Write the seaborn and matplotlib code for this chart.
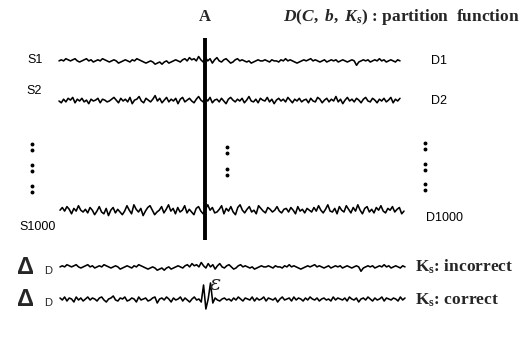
import numpy as np
import matplotlib
matplotlib.use("Agg")
import matplotlib.pyplot as plt
import seaborn as sns

sns.set_style("white")
plt.rcParams['font.family'] = ['Liberation Sans', 'DejaVu Sans']
plt.rcParams['mathtext.fontset'] = 'custom'
plt.rcParams['mathtext.rm'] = 'Liberation Serif:bold'
plt.rcParams['mathtext.it'] = 'Liberation Serif:italic:bold'
plt.rcParams['mathtext.bf'] = 'Liberation Serif:bold'

# ---- data: hand-read trace shapes (relative amplitude, up = positive) ----
s1 = [1, 2, 1, 3, 2, 1, 2, 3, 1, 0, 1, 2, 3, 1, 2, 0, 1, 2, 1, 3,
      2, 1, 0, 1, 2, 1, -1, 0, 1, 2, 1, 0, 2, 1, 3, 2, 1, 0, -1, 0,
      1, 0, -2, -1, 0, -2, 0, 1, -1, 0, 1, 2, 1, 0, 2, 3, 1, 4, 2, 3,
      1, 5, 2, 0, 4, 1, 3, -1, 2, 4, 1, 0, 2, 3, 1, -1, 0, 2, 3, 1,
      2, 1, 0, 1, -1, 0, 1, 2, 1, 1, 2, 1, 0, 2, 1, 1, 0, 2, 1, 3,
      1, 2, 1, 0, -1, 0, 1, 2, 1, 2, 3, 1, 2, 1, 0, 1, 2, 0, 1, 2,
      1, 2, 0, 1, 2, 1, 0, 1, 2, 1, -3, 0, 1, 2, 1, 2, 0, 1, 2, 1,
      3, 1, 2, 0, 1, 2, 1, 0, 2, 1]
s2 = [0, -2, 2, -1, 3, 1, 4, -2, 2, 0, 3, -1, 1, -3, 2, 0, 1, 3, -2, 2,
      1, -1, 0, 2, 4, 1, -2, 3, 0, 2, -1, 4, -3, 1, 2, 5, 0, -2, 3, 1,
      -1, 2, 6, 0, 3, -2, 1, 4, -1, 2, 0, 3, -3, 2, 4, -1, 1, 3, 0, -2,
      2, 5, 1, -1, 3, 0, 4, -2, 1, 2, -1, 3, 0, -3, 2, 4, 1, -1, 2, 0,
      3, -2, 1, 5, 0, -1, 2, -2, 3, 1, 0, 4, -1, 2, -3, 1, 3, 0, 2, -1,
      4, 1, -2, 2, 0, 3, -1, 1, 2, -2, 3, 0, -1, 4, 2, -2, 1, 3, -1, 2,
      0, 5, -1, 2, -3, 1, 4, 0, 2, -1, 3, 1, -2, 2, 4, 0, -1, 3, 1, -2,
      2, 0, 3, -1, 1, 4, -2, 2, 0, 3]
s1000 = [2, 5, 1, 6, 3, -2, 4, 1, 7, 2, 0, 3, -1, 5, 2, -3, 1, 6, 0, -2,
         4, -4, 2, 5, -1, 3, 0, -3, 1, 7, 2, -2, 8, 3, 0, 4, -4, 1, 5, 7,
         2, -3, 0, 2, 6, -1, 3, 8, 1, 4, -2, 5, 0, 2, 7, -1, 3, 0, -3, 4,
         6, 1, -2, 3, 8, 2, 5, -1, 0, 3, 7, -2, 4, 1, 6, 0, -3, 5, 8, 2,
         -1, 3, 6, 0, 2, -2, 7, 4, 1, -1, 5, 3, 0, 2, 6, 1, -1, 3, 4, 0,
         5, 2, -2, 6, 1, 3, -1, 4, 2, 0, 5, 1, 7, 2, -1, 3, 8, 1, 0, 4,
         -2, 6, 2, 0, 7, 3, -1, 5, 1, 8, 2, -2, 4, 6, 0, 3, -1, 5, 2, 7,
         1, -1, 4, 2, 6, 0, 3, 5, -2, 1]
delta_incorrect = s1
delta_correct = [2, 0, 3, -1, 2, 1, -2, 3, 0, 2, -1, 1, 3, 0, 2, 1, -1, 2, 3, 0,
                 -2, 1, 2, 4, 0, -1, 2, 1, 3, -1, 0, 2, 1, -2, 3, 0, 1, 2, -1, 0,
                 2, 3, -3, 1, 2, 0, 3, 1, -2, 2, 0, 1, 3, -1, 2, 0, -2, 1, 3, 0,
                 1, -2, 15, -9, 1, 17, -3, 2, 0, -1, 1, 2, 0, 1, -1, 2, 0, 3, 1, -1,
                 2, 1, 0, 3, -1, 2, 0, 1, 3, -1, 2, 1, 0, 2, -2, 1, 3, 0, 1, 2,
                 -1, 3, 0, 2, 1, -1, 2, 0, 3, 1, 0, 2, -1, 1, 2, 0, 1, -1, 3, 0,
                 2, 1, 0, 2, -1, 3, 1, 0, 2, -2, 1, 2, 0, 3, 1, -1, 2, 0, 1, 3,
                 -1, 2, 1, 0, 2, 1, -1, 3, 0, 2]

left_labels = ["S1", "S2", "S1000"]
right_labels = ["D1", "D2", "D1000"]
key_labels = ["incorrect", "correct"]

# ---- figure in pixel coordinates ----
fig = plt.figure(figsize=(5.31, 3.41), dpi=100)
ax = fig.add_axes([0, 0, 1, 1])
ax.set_xlim(0, 531)
ax.set_ylim(341, 0)
ax.axis("off")


def trace(vals, x0, x1, base, amp):
    v = np.asarray(vals, dtype=float)
    xs = np.linspace(x0, x1, len(v))
    sns.lineplot(x=xs, y=base - amp * v, ax=ax, color="black", lw=1.15,
                 sort=False, estimator=None)


trace(s1, 59, 400, 62, 1.1)
trace(s2, 59, 400, 101, 0.9)
trace(s1000, 60, 404, 212, 0.9)
trace(delta_incorrect, 60, 405, 268, 1.1)
trace(delta_correct, 60, 405, 300, 1.0)

# vertical bar at A
ax.plot([205, 205], [38, 240], color="black", lw=2.8, solid_capstyle="butt")

# labels
sans = dict(family="Liberation Sans", fontsize=9, color="black")
ax.text(27, 60, left_labels[0], va="center", ha="left", **sans)
ax.text(26, 91, left_labels[1], va="center", ha="left", **sans)
ax.text(19, 227, left_labels[2], va="center", ha="left", **sans)
ax.text(431, 61, right_labels[0], va="center", ha="left", **sans)
ax.text(431, 101, right_labels[1], va="center", ha="left", **sans)
ax.text(426, 218, right_labels[2], va="center", ha="left", **sans)

# vertical ellipsis colons
for x, ys in [(32, [147, 168, 189]), (227, [150, 172]), (425, [146, 167, 187])]:
    for y in ys:
        ax.plot([x, x], [y - 3, y + 3], ls="none", marker="o", ms=1.8, color="black")

# headings
ax.text(205, 17, "A", ha="center", va="center", family="Liberation Serif",
        weight="bold", fontsize=12)
ax.text(283, 17, r"$D(C,\ b,\ K_s)$ : partition  function", ha="left", va="center",
        family="Liberation Serif", weight="bold", fontsize=12.5)

# delta rows
for y in [268, 300]:
    ax.text(17, y, "Δ", ha="left", va="center", family="Liberation Sans",
            weight="bold", fontsize=17)
    ax.text(44, y + 3, "D", ha="left", va="center", family="Liberation Sans",
            fontsize=8)
ax.text(415, 267, r"$\mathrm{K_s}$: " + key_labels[0], ha="left", va="center",
        family="Liberation Serif", weight="bold", fontsize=12.5)
ax.text(415, 300, r"$\mathrm{K_s}$: " + key_labels[1], ha="left", va="center",
        family="Liberation Serif", weight="bold", fontsize=12.5)
ax.text(210, 284, "ε", ha="left", va="center", family="DejaVu Serif",
        style="italic", fontsize=15)

fig.savefig("out.png", dpi=100)
